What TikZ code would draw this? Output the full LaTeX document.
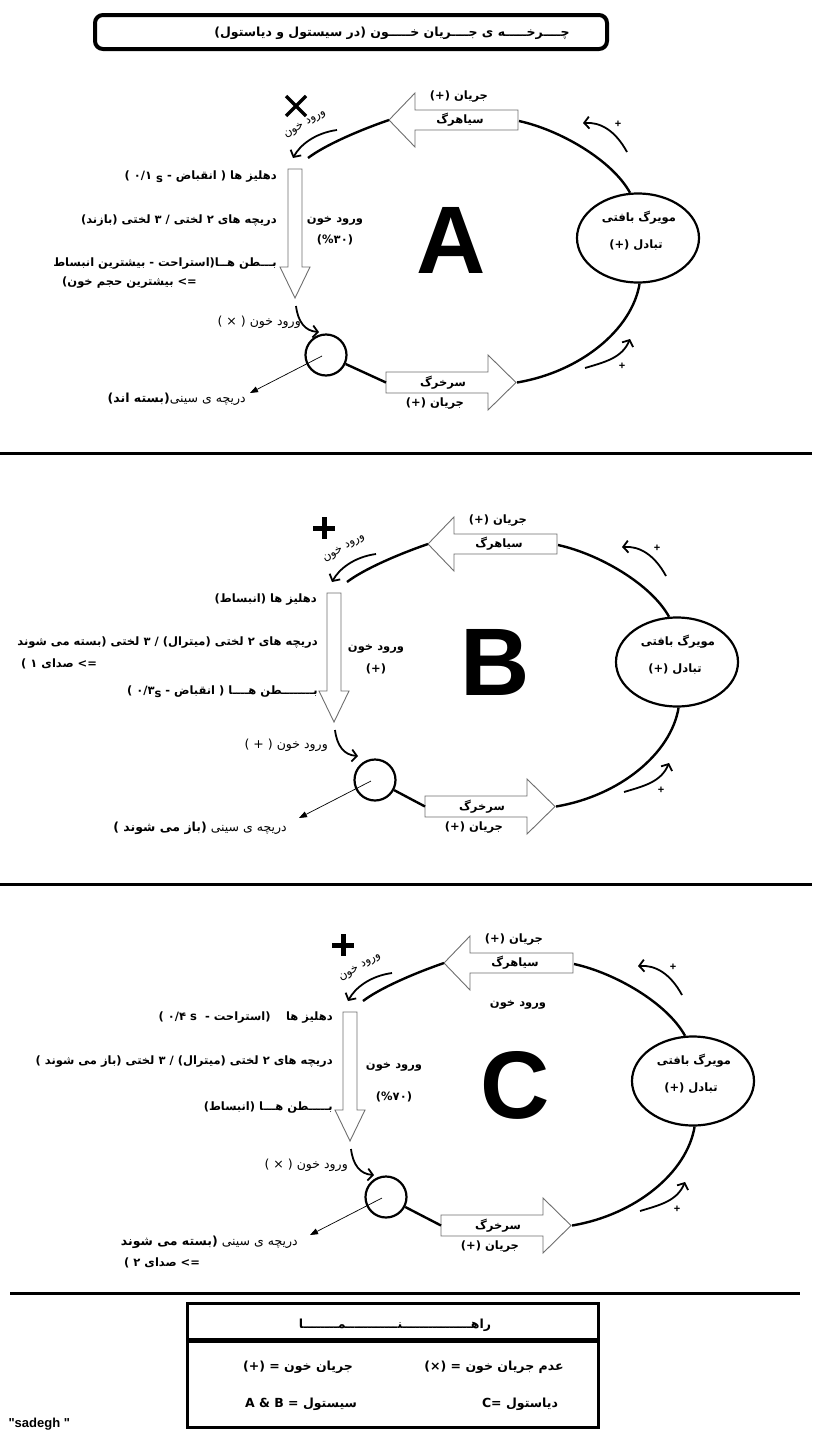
\documentclass[tikz,border=0pt]{standalone}
\usepackage{fontspec}
\setmainfont{Liberation Sans}
\setmonofont{Liberation Sans}
\newfontfamily\fa[Script=Arabic]{DejaVu Sans}
\newfontfamily\faltr{DejaVu Sans}
\TeXXeTstate=1
\usetikzlibrary{arrows.meta,shapes.geometric}
\definecolor{ink}{HTML}{000000}
\definecolor{edge}{HTML}{6E6E6E}

\tikzset{
  hollow/.style={draw=edge, fill=white, line width=0.9pt},
  cycleline/.style={draw=ink, line width=2.4pt},
  curvearrow/.style={draw=ink, line width=1.8pt, -{Straight Barb[length=5pt,width=12pt]}},
  valvepointer/.style={draw=ink, line width=0.7pt, -{Triangle[length=8pt,width=6pt]}},
  fa/.style={font=\fa\bfseries\fontsize{11.5}{13}\selectfont, inner sep=0pt},
  falight/.style={font=\fa\fontsize{12.5}{14}\selectfont, inner sep=0pt},
  keytext/.style={font=\fa\bfseries\fontsize{12.5}{14}\selectfont, inner sep=0pt},
  plusmark/.style={font=\bfseries\fontsize{11}{13}\selectfont, inner sep=0pt},
  panelletter/.style={font=\bfseries\fontsize{96}{96}\selectfont, inner sep=0pt},
  divider/.style={draw=ink, line width=3pt},
}

% one circulation loop: #1 panel name, #2 shift, #3 valve centre
\newcommand{\cycleframe}[3]{%
  \begin{scope}[shift={#2}]
    % vein
    \draw[hollow] (518,110) -- (415,110) -- (415,93) -- (389,120)
      -- (415,147) -- (415,130) -- (518,130) -- cycle;
    \coordinate (#1-vein-tip) at (389,120);
    \coordinate (#1-vein-end) at (519,121);
    \node[fa] (#1-vein) at (460,120) {\beginR سیاهرگ\endR};
    \node[fa] (#1-vein-flow) at (459,97) {\beginR جریان (+)\endR};
    % artery
    \draw[hollow] (386,372) -- (488,372) -- (488,355) -- (516,382.5)
      -- (488,410) -- (488,393) -- (386,393) -- cycle;
    \coordinate (#1-art-start) at (386,382.5);
    \coordinate (#1-art-tip) at (517,382.5);
    \node[fa] (#1-art) at (443,383) {\beginR سرخرگ\endR};
    \node[fa] (#1-art-flow) at (435,404) {\beginR جریان (+)\endR};
    % ventricles
    \draw[hollow] (288,169) -- (302,169) -- (302,267) -- (310,267)
      -- (295,298) -- (280,267) -- (288,267) -- cycle;
    \coordinate (#1-in) at (308,158);
    % capillaries
    \node[draw=ink, ellipse, line width=2.2pt, minimum width=122, minimum height=89] (#1-cap) at (638,238) {};
    \node[fa] (#1-cap-name) at (639,218) {\beginR مویرگ بافتی\endR};
    \node[fa] (#1-cap-swap) at (636,245) {\beginR تبادل (+)\endR};
    % semilunar valve
    \node[draw=ink, circle, line width=2.2pt, minimum size=41] (#1-valve) at #3 {};
    % the loop
    \draw[cycleline] (#1-vein-tip) .. controls (360,130) and (325,145) .. (#1-in);
    \draw[cycleline] (#1-vein-end) .. controls (560,130) and (612,160) .. (#1-cap.100);
    \draw[cycleline] (#1-art-tip) .. controls (580,372) and (632,330) .. (#1-cap.272);
    \draw[cycleline] (#1-valve) -- (#1-art-start);
    \draw[valvepointer] ([xshift=-4pt,yshift=-1pt]#1-valve.center) -- ++(-72,37) coordinate (#1-valve-note);
    % flow marks
    \draw[curvearrow] (337,130) .. controls (315,133) and (300,145) .. (293,158);
    \node[falight, font=\fa\fontsize{11.5}{13}\selectfont, rotate=31] (#1-entry) at (305,124) {\beginR ورود خون\endR};
    \draw[curvearrow] (296,306) .. controls (298,322) and (305,331) .. (319,332);
    \draw[curvearrow] (627,152) .. controls (615,130) and (600,122) .. (583,123);
    \node[plusmark] (#1-plus-up) at (618,124) {+};
    \draw[curvearrow] (585,368) .. controls (605,362) and (622,358) .. (630,339);
    \node[plusmark] (#1-plus-down) at (622,366) {+};
  \end{scope}}

\begin{document}
\begin{tikzpicture}[x=1pt, y=-1pt]
  \useasboundingbox (0,0) rectangle (812,1443);

  % Title
  \draw[line width=4pt, rounded corners=8pt] (95,15) rectangle (607,49);
  \node[keytext] (title) at (392,33)
    {\beginR چــــرخـــــه ی جــــریان خـــــون (در سیستول و دیاستول)\endR};

  % Panel A
  \cycleframe{A}{(0,0)}{(326,355)}
  \draw[line width=3.5pt] (286,96) -- (306,116) (286,116) -- (306,96);
  \node[fa, anchor=east] (A-atria) at (277,177) {\beginR دهلیز ها ( انقباض - \raisebox{-3pt}{s} ۰/۱ )\endR};
  \node[fa, anchor=east] (A-valves) at (277,221) {\beginR دریچه های ۲ لختی / ۳ لختی (بازند)\endR};
  \node[fa, anchor=east] (A-ventricles) at (277,264) {\beginR بـــطن هــا(استراحت - بیشترین انبساط\endR};
  \node[fa, anchor=west] (A-ventricles-2) at (62,283) {\beginR => بیشترین حجم خون)\endR};
  \node[fa] (A-inflow) at (335,221) {\beginR ورود خون\endR};
  \node[fa, font=\faltr\bfseries\fontsize{11.5}{13}\selectfont] (A-share) at (335,240) {(\%۳۰)};
  \node[falight, anchor=east] (A-outflow) at (301,322) {\beginR ورود خون ( × )\endR};
  \node[falight, anchor=east] (A-semilunar) at (246,399) {\beginR دریچه ی سینی{\bfseries(بسته اند)}\endR};
  \node[panelletter] (A-letter) at (451,240) {A};

  \draw[divider] (0,453) -- (812,453);

  % Panel B
  \cycleframe{B}{(39,424)}{(336,356)}
  \draw[line width=5pt] (324,517) -- (324,539) (313,528) -- (335,528);
  \node[fa, anchor=east] (B-atria) at (317,600) {\beginR دهلیز ها  (انبساط)\endR};
  \node[fa, anchor=east] (B-valves) at (318,643) {\beginR دریچه های ۲ لختی (میترال) / ۳ لختی (بسته می شوند\endR};
  \node[fa, anchor=west] (B-valves-2) at (21,664) {\beginR => صدای ۱ )\endR};
  \node[fa, anchor=east] (B-ventricles) at (318,692) {\beginR بــــــــطن هــــا ( انقباض - \raisebox{-3pt}{s}۰/۳ )\endR};
  \node[fa] (B-inflow) at (376,649) {\beginR ورود خون\endR};
  \node[fa] (B-share) at (376,669) {(+)};
  \node[falight, anchor=east] (B-outflow) at (328,745) {\beginR ورود خون ( + )\endR};
  \node[falight, anchor=east] (B-semilunar) at (287,828) {\beginR دریچه ی سینی {\bfseries (باز می شوند )}\endR};
  \node[panelletter] (B-letter) at (495,662) {B};

  \draw[divider] (0,884) -- (812,884);

  % Panel C
  \cycleframe{C}{(55,843)}{(331,354)}
  \draw[line width=5pt] (343,934) -- (343,956) (332,945) -- (354,945);
  \node[fa, anchor=east] (C-atria) at (333,1018) {\beginR دهلیز ها \quad (استراحت -\ \ s ۰/۴ )\endR};
  \node[fa, anchor=east] (C-valves) at (333,1062) {\beginR دریچه های ۲ لختی (میترال) / ۳ لختی (باز می شوند )\endR};
  \node[fa, anchor=east] (C-ventricles) at (333,1108) {\beginR بـــــطن هـــا (انبساط)\endR};
  \node[fa] (C-inflow) at (394,1067) {\beginR ورود خون\endR};
  \node[fa, font=\faltr\bfseries\fontsize{11.5}{13}\selectfont] (C-share) at (394,1097) {(\%۷۰)};
  \node[falight, anchor=east] (C-outflow) at (348,1165) {\beginR ورود خون ( × )\endR};
  \node[falight, anchor=east] (C-semilunar) at (298,1242) {\beginR دریچه ی سینی {\bfseries(بسته می شوند}\endR};
  \node[fa, anchor=west] (C-semilunar-2) at (124,1263) {\beginR => صدای ۲ )\endR};
  \node[fa] (C-vein-in) at (518,1005) {\beginR ورود خون\endR};
  \node[panelletter] (C-letter) at (515,1085) {C};

  \draw[divider] (10,1293) -- (800,1293);

  % Legend
  \draw[line width=3pt] (187,1303) rectangle (598,1427);
  \draw[line width=5pt] (187,1340) -- (598,1340);
  \node[keytext] (key-title) at (395,1325) {\beginR راهــــــــــــــــنــــــــــــمــــــــا\endR};
  \node[keytext] (key-flow) at (298,1367) {\beginR جریان خون = (+)\endR};
  \node[keytext] (key-noflow) at (494,1367) {\beginR عدم جریان خون = (×)\endR};
  \node[keytext] (key-systole) at (301,1404) {\beginR سیستول = \beginL A \& B\endL\endR};
  \node[keytext] (key-diastole) at (520,1404) {\beginR دیاستول \beginL C=\endL\endR};

  \node[anchor=west, font=\ttfamily\bfseries\fontsize{13}{15}\selectfont] (author) at (5,1424) {"sadegh "};
\end{tikzpicture}
\end{document}
